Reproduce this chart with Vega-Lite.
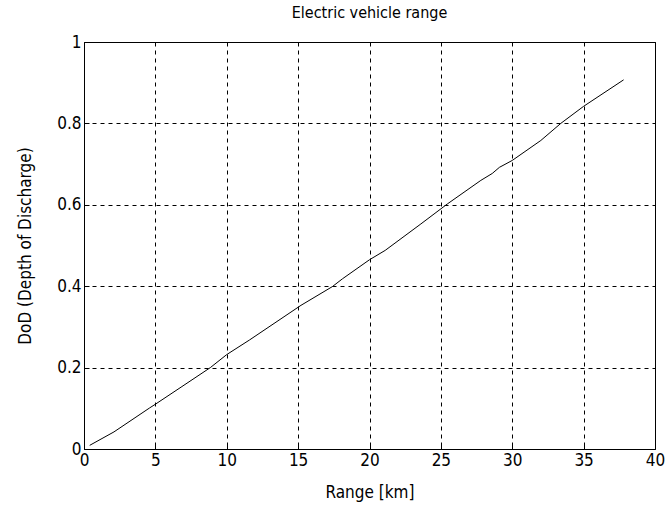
{
  "$schema": "https://vega.github.io/schema/vega-lite/v6.json",
  "autosize": {"type": "none"},
  "padding": {"left": 84, "top": 42, "right": 10, "bottom": 60},
  "width": 571,
  "height": 407,
  "background": "white",
  "title": {"text": "Electric vehicle range", "font": "DejaVu Sans Condensed, Liberation Sans, sans-serif", "fontSize": 16, "fontWeight": "normal", "color": "black", "offset": 12},
  "config": {
    "view": {"stroke": "black", "strokeWidth": 1},
    "axis": {
      "labelFont": "DejaVu Sans Condensed, Liberation Sans, sans-serif",
      "titleFont": "DejaVu Sans Condensed, Liberation Sans, sans-serif",
      "labelFontSize": 17,
      "titleFontSize": 17,
      "titleFontWeight": "normal",
      "labelColor": "black",
      "titleColor": "black",
      "domain": false,
      "gridColor": "black",
      "gridOpacity": 1,
      "gridDash": [4, 4],
      "gridWidth": 1,
      "tickColor": "black",
      "tickSize": -5,
      "labelPadding": 8
    }
  },
  "data": {
    "values": [
      {"range": 0.4, "dod": 0.009},
      {"range": 2.1, "dod": 0.042},
      {"range": 4.6, "dod": 0.101},
      {"range": 5.0, "dod": 0.11},
      {"range": 6.8, "dod": 0.152},
      {"range": 8.85, "dod": 0.2},
      {"range": 10.0, "dod": 0.232},
      {"range": 11.6, "dod": 0.268},
      {"range": 15.2, "dod": 0.353},
      {"range": 17.4, "dod": 0.399},
      {"range": 18.1, "dod": 0.418},
      {"range": 20.0, "dod": 0.465},
      {"range": 21.1, "dod": 0.488},
      {"range": 23.6, "dod": 0.553},
      {"range": 25.45, "dod": 0.602},
      {"range": 27.8, "dod": 0.66},
      {"range": 28.6, "dod": 0.677},
      {"range": 29.1, "dod": 0.692},
      {"range": 30.0, "dod": 0.709},
      {"range": 32.0, "dod": 0.758},
      {"range": 33.4, "dod": 0.8},
      {"range": 35.0, "dod": 0.842},
      {"range": 37.8, "dod": 0.907}
    ]
  },
  "mark": {"type": "line", "color": "black", "strokeWidth": 1},
  "encoding": {
    "x": {
      "field": "range", "type": "quantitative",
      "scale": {"domain": [0, 40], "nice": false},
      "axis": {"values": [0, 5, 10, 15, 20, 25, 30, 35, 40], "title": "Range [km]", "titlePadding": 16, "labelFlush": false}
    },
    "y": {
      "field": "dod", "type": "quantitative",
      "scale": {"domain": [0, 1], "nice": false},
      "axis": {"values": [0, 0.2, 0.4, 0.6, 0.8, 1], "title": "DoD (Depth of Discharge)", "titlePadding": 22, "labelFlush": false, "format": "~g"}
    }
  }
}
